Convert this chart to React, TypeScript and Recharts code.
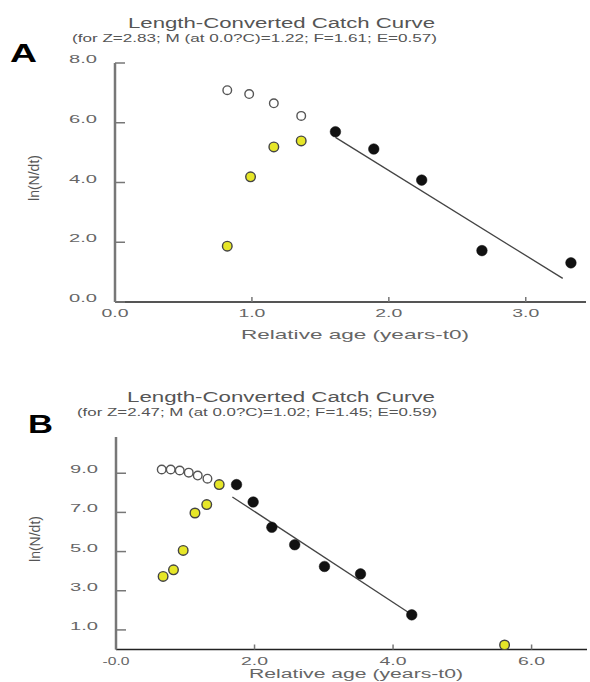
import React from 'react';
import { ComposedChart, Scatter, XAxis, YAxis, ReferenceLine } from 'recharts';

const FONT = '"Liberation Sans", Arial, Helvetica, sans-serif';

// ---------- Panel A data ----------
const aOpen = [
  { x: 0.82, y: 7.09 },
  { x: 0.98, y: 6.96 },
  { x: 1.16, y: 6.65 },
  { x: 1.36, y: 6.23 },
];
const aYellow = [
  { x: 0.82, y: 1.87 },
  { x: 0.99, y: 4.19 },
  { x: 1.16, y: 5.19 },
  { x: 1.36, y: 5.39 },
];
const aBlack = [
  { x: 1.61, y: 5.7 },
  { x: 1.89, y: 5.12 },
  { x: 2.24, y: 4.08 },
  { x: 2.68, y: 1.72 },
  { x: 3.33, y: 1.31 },
];
const aFit = [
  { x: 1.61, y: 5.51 },
  { x: 3.27, y: 0.79 },
];
const aXTicks = [0, 1, 2, 3];
const aXTickLabels = ['0.0', '1.0', '2.0', '3.0'];
const aYTicks = [0, 2, 4, 6, 8];
const aYTickLabels = ['0.0', '2.0', '4.0', '6.0', '8.0'];
const aTitle = 'Length-Converted Catch Curve';
const aSubtitle = '(for Z=2.83; M (at 0.0?C)=1.22; F=1.61; E=0.57)';

// ---------- Panel B data ----------
const bOpen = [
  { x: 0.66, y: 9.19 },
  { x: 0.79, y: 9.19 },
  { x: 0.92, y: 9.14 },
  { x: 1.05, y: 9.03 },
  { x: 1.18, y: 8.88 },
  { x: 1.32, y: 8.72 },
];
const bYellow = [
  { x: 0.68, y: 3.73 },
  { x: 0.83, y: 4.07 },
  { x: 0.97, y: 5.06 },
  { x: 1.14, y: 6.97 },
  { x: 1.31, y: 7.4 },
  { x: 1.49, y: 8.42 },
  { x: 5.61, y: 0.23 },
];
const bBlack = [
  { x: 1.74, y: 8.42 },
  { x: 1.98, y: 7.53 },
  { x: 2.25, y: 6.24 },
  { x: 2.58, y: 5.35 },
  { x: 3.01, y: 4.24 },
  { x: 3.53, y: 3.86 },
  { x: 4.27, y: 1.77 },
];
const bFit = [
  { x: 1.68, y: 7.79 },
  { x: 4.24, y: 1.85 },
];
const bXTicks = [0, 2, 4, 6];
const bXTickLabels = ['-0.0', '2.0', '4.0', '6.0'];
const bYTicks = [1, 3, 5, 7, 9];
const bYTickLabels = ['1.0', '3.0', '5.0', '7.0', '9.0'];
const bTitle = 'Length-Converted Catch Curve';
const bSubtitle = '(for Z=2.47; M (at 0.0?C)=1.02; F=1.45; E=0.59)';

const xLabel = 'Relative age (years-t0)';
const yLabel = 'ln(N/dt)';

const openShape = (p: any) => (
  <circle cx={p.cx} cy={p.cy} r={4.3} fill="#fff" stroke="#555" strokeWidth={1.4} />
);
const yellowShape = (p: any) => (
  <circle cx={p.cx} cy={p.cy} r={4.8} fill="#e6e628" stroke="#444" strokeWidth={1.4} />
);
const blackShape = (p: any) => (
  <circle cx={p.cx} cy={p.cy} r={5.3} fill="#111" stroke="#111" strokeWidth={0.5} />
);

const makeXTick = (ticks: number[], labels: string[]) => (p: any) => {
  const i = ticks.indexOf(p.payload.value);
  return (
    <g>
      <line x1={p.x} x2={p.x} y1={p.y - 5} y2={p.y} stroke="#777" strokeWidth={1.5} />
      <text
        x={p.x}
        y={p.y + 15}
        textAnchor="middle"
        fontSize={11.5}
        fill="#666"
        fontFamily={FONT}
        textLength={27}
        lengthAdjust="spacingAndGlyphs"
      >
        {labels[i]}
      </text>
    </g>
  );
};

const makeYTick = (ticks: number[], labels: string[]) => (p: any) => {
  const i = ticks.indexOf(p.payload.value);
  return (
    <g>
      <line x1={p.x} x2={p.x + 10} y1={p.y} y2={p.y} stroke="#777" strokeWidth={1.5} />
      <text
        x={p.x - 18}
        y={p.y}
        textAnchor="end"
        fontSize={11.5}
        fill="#666"
        fontFamily={FONT}
        textLength={28}
        lengthAdjust="spacingAndGlyphs"
      >
        {labels[i]}
      </text>
    </g>
  );
};

export default function App() {
  return (
    <div style={{ position: 'absolute', left: 0, top: 0, width: 590, height: 682, background: '#fff' }}>
      <div style={{ position: 'absolute', left: 0, top: 0 }}>
        <ComposedChart width={590} height={345} margin={{ top: 63, right: 4, bottom: 13, left: 55 }}>
          <XAxis
            type="number"
            dataKey="x"
            domain={[0, 3.44]}
            ticks={aXTicks}
            allowDataOverflow
            height={30}
            tickSize={0}
            tickMargin={0}
            tickLine={false}
            axisLine={{ stroke: '#555', strokeWidth: 2 }}
            tick={makeXTick(aXTicks, aXTickLabels)}
          />
          <YAxis
            type="number"
            dataKey="y"
            domain={[0, 8]}
            ticks={aYTicks}
            allowDataOverflow
            width={60}
            tickSize={0}
            tickMargin={0}
            tickLine={false}
            axisLine={{ stroke: '#777', strokeWidth: 2.5 }}
            tick={makeYTick(aYTicks, aYTickLabels)}
          />
          <ReferenceLine segment={aFit} stroke="#444" strokeWidth={1.3} ifOverflow="visible" />
          <Scatter data={aOpen} shape={openShape} isAnimationActive={false} />
          <Scatter data={aYellow} shape={yellowShape} isAnimationActive={false} />
          <Scatter data={aBlack} shape={blackShape} isAnimationActive={false} />
        </ComposedChart>
      </div>
      <div style={{ position: 'absolute', left: 0, top: 345 }}>
        <ComposedChart width={590} height={337} margin={{ top: 92, right: 3, bottom: 2.5, left: 56 }}>
          <XAxis
            type="number"
            dataKey="x"
            domain={[0, 6.8]}
            ticks={bXTicks}
            allowDataOverflow
            height={30}
            tickSize={0}
            tickMargin={0}
            tickLine={false}
            axisLine={{ stroke: '#222', strokeWidth: 1.5 }}
            tick={makeXTick(bXTicks, bXTickLabels)}
          />
          <YAxis
            type="number"
            dataKey="y"
            domain={[0, 10.85]}
            ticks={bYTicks}
            allowDataOverflow
            width={60}
            tickSize={0}
            tickMargin={0}
            tickLine={false}
            axisLine={{ stroke: '#777', strokeWidth: 2.5 }}
            tick={makeYTick(bYTicks, bYTickLabels)}
          />
          <ReferenceLine segment={bFit} stroke="#444" strokeWidth={1.3} ifOverflow="visible" />
          <Scatter data={bOpen} shape={openShape} isAnimationActive={false} />
          <Scatter data={bYellow} shape={yellowShape} isAnimationActive={false} />
          <Scatter data={bBlack} shape={blackShape} isAnimationActive={false} />
        </ComposedChart>
      </div>
      <svg
        width={590}
        height={682}
        style={{ position: 'absolute', left: 0, top: 0, pointerEvents: 'none' }}
        fontFamily={FONT}
      >
        {/* Panel A texts */}
        <text x={10} y={62} fontSize={26} fontWeight="bold" fill="#000" textLength={27} lengthAdjust="spacingAndGlyphs">A</text>
        <text x={281.5} y={28} textAnchor="middle" fontSize={14} fill="#555" textLength={307} lengthAdjust="spacingAndGlyphs">{aTitle}</text>
        <text x={254.5} y={42} textAnchor="middle" fontSize={11} fill="#555" textLength={365} lengthAdjust="spacingAndGlyphs">{aSubtitle}</text>
        <text x={355} y={339} textAnchor="middle" fontSize={13} fill="#666" textLength={228} lengthAdjust="spacingAndGlyphs">{xLabel}</text>
        <text x={0} y={0} transform="translate(39,178) rotate(-90)" textAnchor="middle" fontSize={14} fill="#555">{yLabel}</text>
        {/* Panel B texts */}
        <text x={28} y={433} fontSize={25} fontWeight="bold" fill="#000" textLength={25} lengthAdjust="spacingAndGlyphs">B</text>
        <text x={281} y={402} textAnchor="middle" fontSize={14} fill="#555" textLength={308} lengthAdjust="spacingAndGlyphs">{bTitle}</text>
        <text x={257} y={416} textAnchor="middle" fontSize={11} fill="#555" textLength={360} lengthAdjust="spacingAndGlyphs">{bSubtitle}</text>
        <text x={356} y={678} textAnchor="middle" fontSize={12.5} fill="#666" textLength={214} lengthAdjust="spacingAndGlyphs">{xLabel}</text>
        <text x={0} y={0} transform="translate(40,539) rotate(-90)" textAnchor="middle" fontSize={14} fill="#555">{yLabel}</text>
      </svg>
    </div>
  );
}
